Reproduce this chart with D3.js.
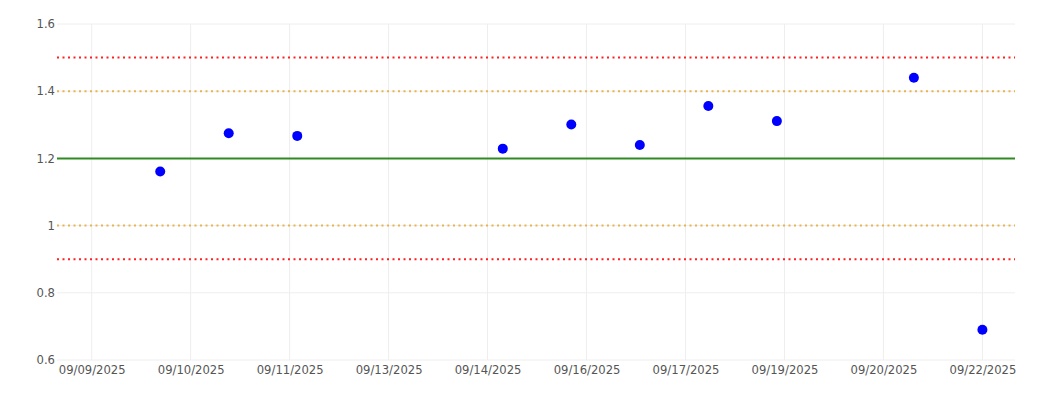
<!DOCTYPE html>
<html lang="en">
<head>
  <meta charset="UTF-8">
  <title>Control chart</title>
  <style>
    body {
      margin: 0;
      background-color: white;
    }

    .tick text {
      font-family: "DejaVu Sans", Verdana, sans-serif;
      font-size: 11.6px;
      fill: #555;
    }

    .grid line {
      stroke: #eee;
      stroke-width: 1;
    }

    .dot {
      fill: #0000ff;
    }
  </style>
</head>
<body>
  <svg id="chart" width="1054" height="410"></svg>

  <script src="https://cdn.jsdelivr.net/npm/d3@7"></script>
  <script>
    // measurement days and values
    var dates = ["2025-09-10", "2025-09-11", "2025-09-12", "2025-09-15", "2025-09-16",
                 "2025-09-17", "2025-09-18", "2025-09-19", "2025-09-21", "2025-09-22"];
    var values = [1.161, 1.275, 1.267, 1.229, 1.301, 1.240, 1.356, 1.311, 1.440, 0.690];

    // limit lines
    var limitValues = [1.5, 1.4, 1.2, 1.0, 0.9];
    var limitColors = ["#ff2020", "#e8b450", "#2e8b22", "#e8b450", "#ff2020"];
    var limitDashed = [true, true, false, true, true];

    // x axis labels (ticks spread evenly from first to last)
    var tickLabels = ["09/09/2025", "09/10/2025", "09/11/2025", "09/13/2025", "09/14/2025",
                      "09/16/2025", "09/17/2025", "09/19/2025", "09/20/2025", "09/22/2025"];
    var yTicks = [0.6, 0.8, 1, 1.2, 1.4, 1.6];

    var width = 1054, height = 410;
    var margin = { top: 24, right: 39, bottom: 50, left: 57 };

    var parse = d3.timeParse("%Y-%m-%d");
    var points = dates.map(function(d, i) { return { date: parse(d), value: values[i] }; });

    var firstTick = parse("2025-09-09");
    var lastTick = parse("2025-09-22");

    var x = d3.scaleTime()
      .domain([d3.timeMinute.offset(firstTick, -729), d3.timeMinute.offset(lastTick, 685)])
      .range([margin.left, width - margin.right]);

    var y = d3.scaleLinear()
      .domain([0.6, 1.6])
      .range([height - margin.bottom, margin.top]);

    var tickDates = tickLabels.map(function(l, i) {
      return new Date(+firstTick + i * (lastTick - firstTick) / (tickLabels.length - 1));
    });

    var svg = d3.select("#chart");

    // grid
    svg.append("g")
      .attr("class", "grid")
      .selectAll("line")
      .data(tickDates)
      .enter().append("line")
      .attr("x1", function(d) { return x(d); })
      .attr("x2", function(d) { return x(d); })
      .attr("y1", margin.top)
      .attr("y2", height - margin.bottom);

    svg.append("g")
      .attr("class", "grid")
      .selectAll("line")
      .data(yTicks)
      .enter().append("line")
      .attr("x1", margin.left)
      .attr("x2", width - margin.right)
      .attr("y1", function(d) { return y(d); })
      .attr("y2", function(d) { return y(d); });

    // axes
    var xAxis = d3.axisBottom(x)
      .tickValues(tickDates)
      .tickSize(0)
      .tickPadding(6)
      .tickFormat(function(d, i) { return tickLabels[i]; });

    svg.append("g")
      .attr("transform", "translate(0," + (height - margin.bottom) + ")")
      .call(xAxis)
      .call(function(g) { g.select(".domain").remove(); });

    var yAxis = d3.axisLeft(y)
      .tickValues(yTicks)
      .tickSize(0)
      .tickPadding(2)
      .tickFormat(d3.format("~g"));

    svg.append("g")
      .attr("transform", "translate(" + margin.left + ",0)")
      .call(yAxis)
      .call(function(g) { g.select(".domain").remove(); });

    // limit lines
    svg.append("g")
      .selectAll("line")
      .data(limitValues)
      .enter().append("line")
      .attr("x1", margin.left)
      .attr("x2", width - margin.right)
      .attr("y1", function(d) { return y(d); })
      .attr("y2", function(d) { return y(d); })
      .attr("stroke", function(d, i) { return limitColors[i]; })
      .attr("stroke-width", 2)
      .attr("stroke-dasharray", function(d, i) { return limitDashed[i] ? "2,3.5" : null; });

    // points
    svg.append("g")
      .selectAll("circle")
      .data(points)
      .enter().append("circle")
      .attr("class", "dot")
      .attr("cx", function(d) { return x(d.date); })
      .attr("cy", function(d) { return y(d.value); })
      .attr("r", 5);
  </script>
</body>
</html>
